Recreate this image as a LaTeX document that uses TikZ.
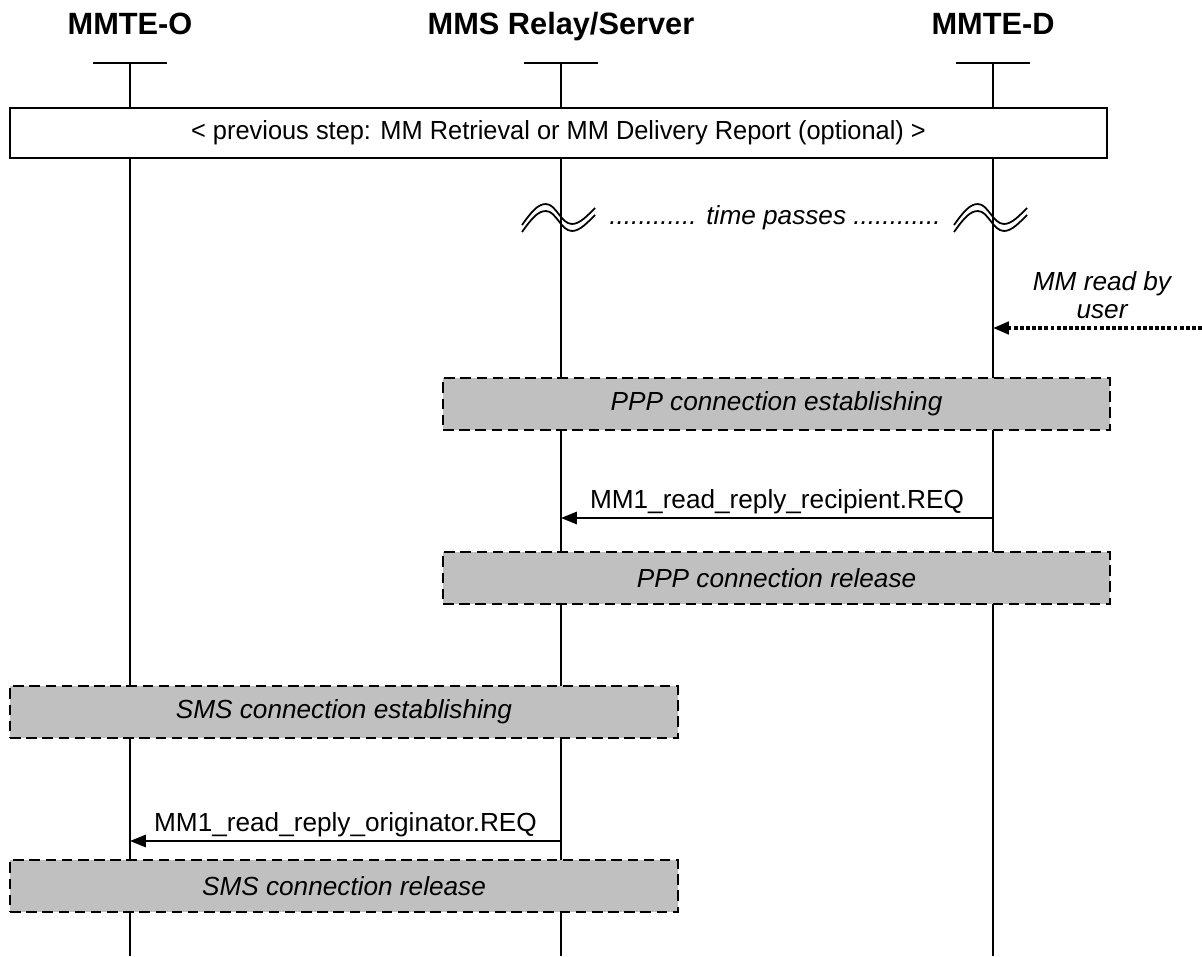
\documentclass[tikz,border=0pt]{standalone}
\usepackage{fontspec}
\setmainfont{Liberation Sans}
\usetikzlibrary{arrows.meta}

\definecolor{boxgray}{RGB}{192,192,192}

\tikzset{
  every node/.style={font=\fontsize{14.9}{17.5}\selectfont},
  actor/.style={font=\fontsize{17.5}{21}\selectfont\bfseries, anchor=base},
  life/.style={line width=1.1pt},
  stepbox/.style={draw, line width=1.1pt, fill=white, inner sep=0pt},
  phase/.style={draw, line width=1.5pt, dash pattern=on 6pt off 3.2pt, fill=boxgray,
    inner sep=0pt, font=\fontsize{14.9}{17.5}\selectfont\itshape},
  msg/.style={line width=1.1pt, -{Triangle[length=9pt,width=7pt]}},
  trigger/.style={line width=2pt, dash pattern=on 2.2pt off 1.3pt, -{Triangle[length=9pt,width=7pt]}},
  wave/.style={line width=1pt}
}

\begin{document}
\begin{tikzpicture}[x=0.02cm, y=-0.02cm]
\useasboundingbox (0,0) rectangle (1202,956);

\node[actor] (ho) at (130,35) {MMTE-O};
\node[actor] (hs) at (561,35) {MMS Relay/Server};
\node[actor] (hd) at (993,35) {MMTE-D};

\coordinate (o) at (130,63);  \coordinate (oend) at (130,956);
\coordinate (s) at (561,63);  \coordinate (send) at (561,956);
\coordinate (d) at (993,63);  \coordinate (dend) at (993,956);

\foreach \l in {o,s,d} {
  \draw[life] ([xshift=-37*0.02cm]\l) -- ([xshift=37*0.02cm]\l);
}
\draw[life] (o) -- (oend);
\draw[life] (s) -- (send);
\draw[life] (d) -- (dend);

\node[stepbox, minimum width=21.94cm, minimum height=1cm] (prev) at (558.5,133)
  {\scalebox{0.97}[1]{< previous step: MM Retrieval or MM Delivery Report (optional) >}};

% time passes
\foreach \dx in {0,432} {
  \foreach \dy in {0,-7} {
    \draw[wave, shift={(\dx,\dy)}] (522,232) .. controls (532,218) and (538,211) .. (546,211)
      .. controls (556,211) and (561,231) .. (572,231) .. controls (580,231) and (588,222) .. (595,215);
  }
}
\node[font=\fontsize{14.9}{17.5}\selectfont\itshape] (pass) at (775,218)
  {............ time passes ............};

\node[font=\fontsize{14.9}{16}\selectfont\itshape, align=center] (read) at (1102,295)
  {MM read by\\user};
\coordinate (ext) at (1202,328); \coordinate (d0) at (993,328);
\draw[trigger] (ext) -- (d0);

\node[phase, minimum width=13.34cm, minimum height=1.04cm] (pppest) at (776.5,404)
  {PPP connection establishing};

\coordinate (d1) at (993,518); \coordinate (s1) at (561,518);
\draw[msg] (d1) -- node[above, yshift=-1.5pt] {MM1\_read\_reply\_recipient.REQ} (s1);

\node[phase, minimum width=13.34cm, minimum height=1.04cm] (ppprel) at (776.5,578)
  {PPP connection release};

\node[phase, minimum width=13.36cm, minimum height=1.04cm] (smsest) at (344,712)
  {SMS connection establishing};

\coordinate (s2) at (561,841); \coordinate (o2) at (130,841);
\draw[msg] (s2) -- node[above, yshift=-1.5pt] {MM1\_read\_reply\_originator.REQ} (o2);

\node[phase, minimum width=13.36cm, minimum height=1.04cm] (smsrel) at (344,886)
  {SMS connection release};
\end{tikzpicture}
\end{document}
